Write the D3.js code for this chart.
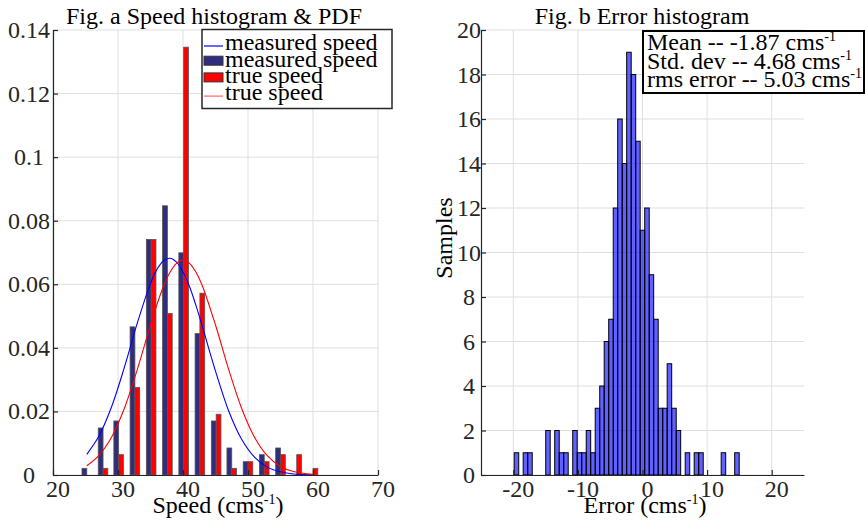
<!DOCTYPE html>
<html>
<head>
<meta charset="utf-8">
<script src="https://cdn.jsdelivr.net/npm/d3@7"></script>
<style>
body { margin: 0; background: #fff; }
svg text { font-family: "Liberation Serif", "Times New Roman", serif; }
</style>
</head>
<body>
<div id="chart"></div>
<script>
// Fig. a : speed histogram (density) with fitted PDFs
var speedBins = [25.2, 27.7, 30.1, 32.6, 35.1, 37.6, 40.1, 42.6, 45.1, 47.5, 50.0, 52.5, 55.0, 57.5, 60.0];
var measuredDensity = [0.0021, 0.0148, 0.0170, 0.0466, 0.0741, 0.0847, 0.0699, 0.0445, 0.0170, 0.0085, 0.0042, 0.0064, 0.0085, 0, 0];
var trueDensity = [0, 0.0021, 0.0064, 0.0275, 0.0741, 0.0508, 0.1346, 0.0572, 0.0191, 0.0021, 0.0042, 0.0042, 0.0064, 0.0064, 0.0021];

var pdfX = [25.2, 27, 29, 31, 33, 35, 36, 37, 38, 39, 40, 41, 42, 43, 45, 47, 49, 51, 53, 55, 57, 60];
var measuredPdf = [0.0065, 0.0120, 0.0214, 0.0340, 0.0480, 0.0603, 0.0647, 0.0674, 0.0682, 0.0670, 0.0639, 0.0593, 0.0533, 0.0466, 0.0327, 0.0203, 0.0113, 0.0056, 0.0024, 0.0010, 0.0003, 0.0001];
var truePdf = [0.0029, 0.0060, 0.0119, 0.0211, 0.0334, 0.0472, 0.0537, 0.0594, 0.0638, 0.0666, 0.0676, 0.0666, 0.0638, 0.0594, 0.0472, 0.0334, 0.0211, 0.0119, 0.0060, 0.0027, 0.0011, 0.0002];

var speedTicks = [20, 30, 40, 50, 60, 70];
var densityTicks = [0, 0.02, 0.04, 0.06, 0.08, 0.1, 0.12, 0.14];
var densityLabels = ["0", "0.02", "0.04", "0.06", "0.08", "0.1", "0.12", "0.14"];

// Fig. b : error histogram, 50 bins
var errEdges = [-19.86, -19.16, -18.47, -17.77, -17.07, -16.38, -15.68, -14.98, -14.29, -13.59,
  -12.89, -12.20, -11.50, -10.80, -10.11, -9.41, -8.71, -8.02, -7.32, -6.62,
  -5.93, -5.23, -4.53, -3.84, -3.14, -2.45, -1.75, -1.05, -0.36, 0.34,
  1.04, 1.73, 2.43, 3.13, 3.82, 4.52, 5.22, 5.91, 6.61, 7.31,
  8.00, 8.70, 9.40, 10.09, 10.79, 11.49, 12.18, 12.88, 13.58, 14.27, 14.97];
var errCounts = [1, 0, 1, 1, 0, 0, 0, 2, 0, 2,
  1, 1, 0, 2, 1, 1, 2, 1, 3, 4,
  6, 7, 12, 16, 14, 19, 18, 15, 11, 12,
  9, 7, 3, 3, 5, 3, 2, 0, 1, 0,
  1, 1, 0, 0, 0, 0, 1, 0, 0, 1];
var errTicks = [-20, -10, 0, 10, 20];
var countTicks = [0, 2, 4, 6, 8, 10, 12, 14, 16, 18, 20];
var statNames = ["Mean -- ", "Std. dev -- ", "rms error -- "];
var statValues = ["-1.87", "4.68", "5.03"];

var ink = "#262626", gridCol = "#dfdfdf";
var svg = d3.select("#chart").append("svg").attr("width", 865).attr("height", 523);

function supText(g, x, y, anchor, parts) {
  var t = g.append("text").attr("x", x).attr("y", y).attr("text-anchor", anchor)
    .attr("font-size", 24).attr("fill", "#000");
  t.append("tspan").text(parts[0]);
  t.append("tspan").attr("font-size", 14).attr("dy", -9).text(parts[1]);
  if (parts[2]) t.append("tspan").attr("font-size", 24).attr("dy", 9).text(parts[2]);
  return t;
}

function grid(g, x, y, xt, yt) {
  g.append("g").selectAll("line").data(xt).join("line")
    .attr("x1", d => x(d)).attr("x2", d => x(d))
    .attr("y1", y.range()[0]).attr("y2", y.range()[1])
    .attr("stroke", gridCol).attr("stroke-width", 1);
  g.append("g").selectAll("line").data(yt).join("line")
    .attr("x1", x.range()[0]).attr("x2", x.range()[1])
    .attr("y1", d => y(d)).attr("y2", d => y(d))
    .attr("stroke", gridCol).attr("stroke-width", 1);
}

// axis lines/ticks by d3.axis, labels as plain text
function axes(g, x, y, xt, yt, ylabels, ylabX) {
  var ax = g.append("g").attr("transform", "translate(0," + y.range()[0] + ")")
    .call(d3.axisBottom(x).tickValues(xt).tickFormat("").tickSizeInner(-5).tickSizeOuter(0));
  var ay = g.append("g").attr("transform", "translate(" + x.range()[0] + ",0)")
    .call(d3.axisLeft(y).tickValues(yt).tickFormat("").tickSizeInner(-5).tickSizeOuter(0));
  [ax, ay].forEach(function(a) {
    a.selectAll("path, line").attr("stroke", ink).attr("stroke-width", 1.2);
  });
  g.append("g").selectAll("text").data(xt).join("text")
    .attr("x", d => x(d) + 5).attr("y", y.range()[0] + 22)
    .attr("text-anchor", "middle").attr("font-size", 24).attr("fill", ink)
    .text(d => String(d));
  g.append("g").selectAll("text").data(yt).join("text")
    .attr("x", ylabX).attr("y", d => y(d) + 8)
    .attr("text-anchor", "middle").attr("font-size", 24).attr("fill", ink)
    .text((d, i) => ylabels[i]);
}

// ---------- Fig. a ----------
var xa = d3.scaleLinear().domain([20, 70]).range([53, 378]);
var ya = d3.scaleLinear().domain([0, 0.14]).range([475, 30]);
var ga = svg.append("g");
grid(ga, xa, ya, speedTicks, densityTicks);

var bw = xa(20.74) - xa(20);
var speedRows = speedBins.map((c, i) => ({c: c, m: measuredDensity[i], t: trueDensity[i]}));
ga.append("g").selectAll("rect").data(speedRows.filter(d => d.m > 0)).join("rect")
  .attr("x", d => xa(d.c) - bw).attr("width", bw)
  .attr("y", d => ya(d.m)).attr("height", d => ya(0) - ya(d.m))
  .attr("fill", "#302d7e").attr("stroke", "#555").attr("stroke-width", 0.8);
ga.append("g").selectAll("rect").data(speedRows.filter(d => d.t > 0)).join("rect")
  .attr("x", d => xa(d.c)).attr("width", bw)
  .attr("y", d => ya(d.t)).attr("height", d => ya(0) - ya(d.t))
  .attr("fill", "#ff0000").attr("stroke", "#555").attr("stroke-width", 0.8);

var pdfLine = d3.line().curve(d3.curveCatmullRom).x(d => xa(d[0])).y(d => ya(d[1]));
ga.append("path").datum(pdfX.map((v, i) => [v, measuredPdf[i]]))
  .attr("d", pdfLine).attr("fill", "none").attr("stroke", "#0000ff").attr("stroke-width", 1.1);
ga.append("path").datum(pdfX.map((v, i) => [v, truePdf[i]]))
  .attr("d", pdfLine).attr("fill", "none").attr("stroke", "#ff0000").attr("stroke-width", 1.1);

axes(ga, xa, ya, speedTicks, densityTicks, densityLabels, 29);

ga.append("text").attr("x", 214).attr("y", 24).attr("text-anchor", "middle")
  .attr("font-size", 24).text("Fig. a Speed histogram & PDF");
supText(ga, 218, 513, "middle", ["Speed (cms", "-1", ")"]);

// legend
var lg = ga.append("g");
lg.append("rect").attr("x", 202).attr("y", 29.5).attr("width", 190).attr("height", 79)
  .attr("fill", "#fff").attr("stroke", ink).attr("stroke-width", 1.5);
var legendItems = [
  {label: "measured speed", kind: "line", color: "#0000ff"},
  {label: "measured speed", kind: "box", color: "#302d7e"},
  {label: "true speed", kind: "box", color: "#ff0000"},
  {label: "true speed", kind: "line", color: "#ff6666"}
];
legendItems.forEach(function(it, i) {
  var b = 50 + 16.7 * i;
  if (it.kind === "line") {
    lg.append("line").attr("x1", 204).attr("x2", 223).attr("y1", b - 4).attr("y2", b - 4)
      .attr("stroke", it.color).attr("stroke-width", 1.2);
  } else {
    lg.append("rect").attr("x", 204).attr("y", b - 10.5).attr("width", 19).attr("height", 9)
      .attr("fill", it.color).attr("stroke", "#333").attr("stroke-width", 1);
  }
  lg.append("text").attr("x", 225).attr("y", b).attr("font-size", 24).text(it.label);
});

// ---------- Fig. b ----------
var xb = d3.scaleLinear().domain([-25, 25]).range([481, 804]);
var yb = d3.scaleLinear().domain([0, 20]).range([475, 30]);
var gb = svg.append("g");
grid(gb, xb, yb, errTicks, countTicks);

var errRows = errCounts.map((n, i) => ({lo: errEdges[i], hi: errEdges[i + 1], n: n}));
gb.append("g").selectAll("rect").data(errRows.filter(d => d.n > 0)).join("rect")
  .attr("x", d => xb(d.lo)).attr("width", d => xb(d.hi) - xb(d.lo))
  .attr("y", d => yb(d.n)).attr("height", d => yb(0) - yb(d.n))
  .attr("fill", "#0000ff").attr("fill-opacity", 0.62)
  .attr("stroke", "#000").attr("stroke-width", 1);

axes(gb, xb, yb, errTicks, countTicks, countTicks.map(String), 469);

gb.append("text").attr("x", 642).attr("y", 24).attr("text-anchor", "middle")
  .attr("font-size", 24).text("Fig. b Error histogram");
supText(gb, 645, 513, "middle", ["Error (cms", "-1", ")"]);
gb.append("text").attr("transform", "translate(452,238) rotate(-90)")
  .attr("text-anchor", "middle").attr("font-size", 24).text("Samples");

// stats box
gb.append("rect").attr("x", 643).attr("y", 31).attr("width", 221).attr("height", 62)
  .attr("fill", "#fff").attr("stroke", "#000").attr("stroke-width", 2);
statNames.forEach(function(s, i) {
  supText(gb, 647, 50 + 18.5 * i, "start", [s + statValues[i] + " cms", "-1"]);
});
</script>
</body>
</html>
